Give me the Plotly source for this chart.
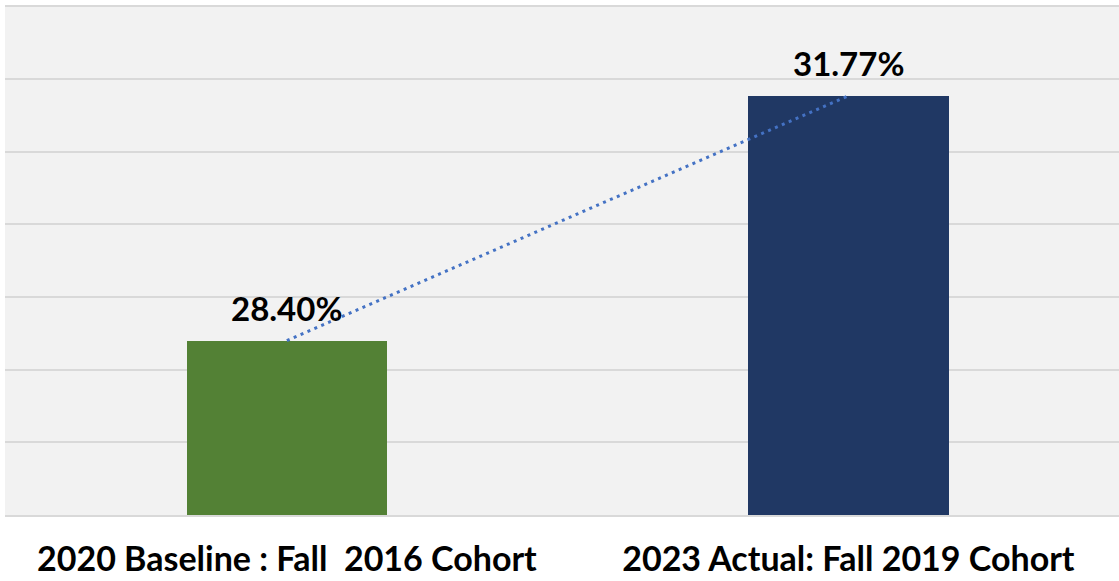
import plotly.graph_objects as go

categories = ["2020 Baseline :\u00a0Fall\u00a0\u00a02016 Cohort", "2023 Actual: Fall 2019 Cohort"]
values = [28.40, 31.77]
labels = ["28.40%", "31.77%"]
bar_colors = ["#538135", "#203864"]

fig = go.Figure()
fig.add_trace(go.Bar(
    x=[0, 1], y=values, marker=dict(color=bar_colors, line=dict(width=0)),
    width=0.357, showlegend=False, hoverinfo="skip",
))
fig.add_trace(go.Scatter(
    x=[0, 1], y=values, mode="lines",
    line=dict(color="#4472C4", width=3, dash="3px,4.5px"),
    showlegend=False, hoverinfo="skip",
))

for i, (v, t) in enumerate(zip(values, labels)):
    fig.add_annotation(
        x=i, y=v, text=t, showarrow=False, yanchor="bottom", xanchor="center",
        yshift=11, font=dict(family="Lato", size=33, color="black", weight="bold"),
    )

fig.update_layout(
    width=1119, height=581,
    margin=dict(l=5, r=0, t=5, b=66, autoexpand=False),
    paper_bgcolor="white", plot_bgcolor="#F2F2F2",
    bargap=0,
    xaxis=dict(
        range=[-0.502, 1.482], tickmode="array", tickvals=[0, 1], ticktext=categories,
        tickfont=dict(family="Lato", size=34, color="black", weight="bold"),
        showgrid=False, showline=True, linecolor="#D9D9D9", linewidth=2,
        ticks="", ticklabelstandoff=13, zeroline=False, automargin=False,
    ),
    yaxis=dict(
        range=[26, 33.02], dtick=1, tick0=26, showticklabels=False,
        showgrid=True, gridcolor="#D9D9D9", gridwidth=2, zeroline=False,
        showline=False, ticks="", automargin=False,
    ),
)

fig.write_html("out.html", config={"displayModeBar": False},
               post_script="document.body.style.margin='0';")
